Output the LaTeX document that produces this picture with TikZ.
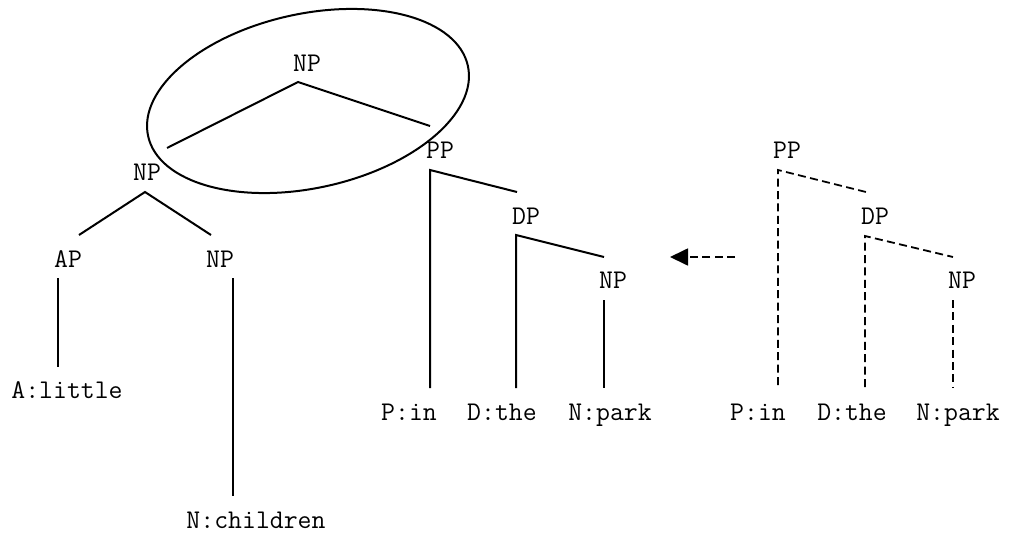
\documentclass[tikz,border=0pt]{standalone}
\usetikzlibrary{arrows.meta}
\begin{document}
\begin{tikzpicture}[x=0.5pt,y=-0.5pt,
  lbl/.style={anchor=base,inner sep=0pt,font=\ttfamily\fontsize{13.5}{15}\selectfont},
  branch/.style={line width=1pt},
  thin/.style={line width=0.7pt},
  dsh/.style={line width=0.9pt,dash pattern=on 4pt off 2.2pt},
  ring/.style={line width=1pt}]
\useasboundingbox (0,0) rectangle (1010,535);
% ellipse
\draw[ring,rotate around={12.4:(308,101)}] (308,101) ellipse [x radius=163.7, y radius=87.1];
% labels left tree
\node[lbl] (np0) at (307,72) {NP};
\node[lbl] (np1) at (147,180) {NP};
\node[lbl] (ap) at (68,267) {AP};
\node[lbl] (np2) at (220,267) {NP};
\node[lbl] (alittle) at (67,398) {A:little};
\node[lbl] (nchildren) at (256,528) {N:children};
% middle tree
\node[lbl] (pp) at (440,158) {PP};
\node[lbl] (dp) at (526,224) {DP};
\node[lbl] (np3) at (613,288) {NP};
\node[lbl] (pin) at (409,420) {P:in};
\node[lbl] (dthe) at (502,420) {D:the};
\node[lbl] (npark) at (610,420) {N:park};
% right tree
\node[lbl] (ppr) at (787,158) {PP};
\node[lbl] (dpr) at (875,224) {DP};
\node[lbl] (npr) at (962,288) {NP};
\node[lbl] (pinr) at (758,420) {P:in};
\node[lbl] (dther) at (852,420) {D:the};
\node[lbl] (nparkr) at (958,420) {N:park};
% coordinates
\coordinate (a0) at (298,82);
\coordinate (a0l) at (167,148);
\coordinate (a0r) at (430,126);
\coordinate (a1) at (145,192);
\coordinate (a1l) at (79,235);
\coordinate (a1r) at (211,235);
\coordinate (apt) at (58,278);
\coordinate (apb) at (58,367);
\coordinate (np2t) at (233,278);
\coordinate (np2b) at (233,496);
\coordinate (ppb) at (430,388);
\coordinate (ppt) at (430,170);
\coordinate (ppe) at (517,192);
\coordinate (dpb) at (516,388);
\coordinate (dpt) at (516,235);
\coordinate (dpe) at (604,257);
\coordinate (np3t) at (604,300);
\coordinate (np3b) at (604,388);
\coordinate (pprb) at (778,385);
\coordinate (pprt) at (778,170);
\coordinate (ppre) at (866,192);
\coordinate (dprb) at (865,387);
\coordinate (dprt) at (865,236);
\coordinate (dpre) at (953,257);
\coordinate (nprt) at (953,300);
\coordinate (nprb) at (953,387);
\coordinate (arrs) at (735,257);
\coordinate (arre) at (670,257);
% branches
\draw[branch] (a0l) -- (a0) -- (a0r);
\draw[branch] (a1l) -- (a1) -- (a1r);
\draw[thin] (apt) -- (apb);
\draw[branch] (np2t) -- (np2b);
\draw[branch] (ppb) -- (ppt) -- (ppe);
\draw[branch] (dpb) -- (dpt) -- (dpe);
\draw[branch] (np3t) -- (np3b);
\draw[dsh] (pprb) -- (pprt) -- (ppre);
\draw[dsh] (dprb) -- (dprt) -- (dpre);
\draw[dsh] (nprt) -- (nprb);
\draw[dsh,-{Triangle[length=9pt,width=8.5pt]}] (arrs) -- (arre);
\end{tikzpicture}
\end{document}
